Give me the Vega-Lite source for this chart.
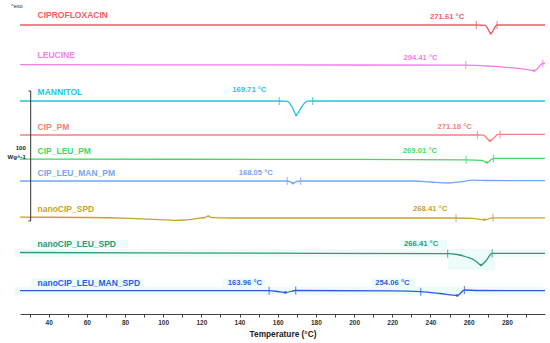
{
  "$schema": "https://vega.github.io/schema/vega-lite/v6.json",
  "width": 525,
  "height": 314,
  "autosize": {"type": "none"},
  "padding": {"left": 20, "top": 0, "right": 5, "bottom": 29},
  "background": "white",
  "config": {
    "view": {"stroke": null},
    "font": "Liberation Sans"
  },
  "datasets": {
    "curves": [
      {"s": "CIPROFLOXACIN", "t": 25, "v": 289}, {"s": "CIPROFLOXACIN", "t": 150, "v": 289}, {"s": "CIPROFLOXACIN", "t": 264, "v": 289}, {"s": "CIPROFLOXACIN", "t": 268.6, "v": 288.6}, {"s": "CIPROFLOXACIN", "t": 269.8, "v": 286}, {"s": "CIPROFLOXACIN", "t": 271.6, "v": 280.7}, {"s": "CIPROFLOXACIN", "t": 274.8, "v": 289}, {"s": "CIPROFLOXACIN", "t": 300, "v": 289},
      {"s": "LEUCINE", "t": 25, "v": 249.3}, {"s": "LEUCINE", "t": 150, "v": 249.1}, {"s": "LEUCINE", "t": 258.5, "v": 248.8}, {"s": "LEUCINE", "t": 270, "v": 248}, {"s": "LEUCINE", "t": 280, "v": 246.7}, {"s": "LEUCINE", "t": 290, "v": 244.6}, {"s": "LEUCINE", "t": 294.4, "v": 243.3}, {"s": "LEUCINE", "t": 298.9, "v": 250.5}, {"s": "LEUCINE", "t": 300, "v": 250.5},
      {"s": "MANNITOL", "t": 25, "v": 213}, {"s": "MANNITOL", "t": 160.8, "v": 213}, {"s": "MANNITOL", "t": 165, "v": 212.6}, {"s": "MANNITOL", "t": 167.5, "v": 207}, {"s": "MANNITOL", "t": 169.7, "v": 199}, {"s": "MANNITOL", "t": 172.5, "v": 207}, {"s": "MANNITOL", "t": 175.5, "v": 212.8}, {"s": "MANNITOL", "t": 178.3, "v": 213}, {"s": "MANNITOL", "t": 300, "v": 213},
      {"s": "CIP_PM", "t": 25, "v": 179}, {"s": "CIP_PM", "t": 264.6, "v": 179}, {"s": "CIP_PM", "t": 267.8, "v": 178.8}, {"s": "CIP_PM", "t": 271.2, "v": 173.2}, {"s": "CIP_PM", "t": 275.6, "v": 179.6}, {"s": "CIP_PM", "t": 300, "v": 179.6},
      {"s": "CIP_LEU_PM", "t": 25, "v": 154.8}, {"s": "CIP_LEU_PM", "t": 200, "v": 154.6}, {"s": "CIP_LEU_PM", "t": 258.7, "v": 154.2}, {"s": "CIP_LEU_PM", "t": 266.9, "v": 153.6}, {"s": "CIP_LEU_PM", "t": 269.5, "v": 151.5}, {"s": "CIP_LEU_PM", "t": 272.1, "v": 154.7}, {"s": "CIP_LEU_PM", "t": 273, "v": 155.6}, {"s": "CIP_LEU_PM", "t": 300, "v": 155.7},
      {"s": "CIP_LEU_MAN_PM", "t": 25, "v": 133}, {"s": "CIP_LEU_MAN_PM", "t": 165, "v": 133}, {"s": "CIP_LEU_MAN_PM", "t": 166.5, "v": 132.3}, {"s": "CIP_LEU_MAN_PM", "t": 168, "v": 130.8}, {"s": "CIP_LEU_MAN_PM", "t": 170, "v": 132.5}, {"s": "CIP_LEU_MAN_PM", "t": 172, "v": 133}, {"s": "CIP_LEU_MAN_PM", "t": 232, "v": 133}, {"s": "CIP_LEU_MAN_PM", "t": 240, "v": 132}, {"s": "CIP_LEU_MAN_PM", "t": 250, "v": 131}, {"s": "CIP_LEU_MAN_PM", "t": 256, "v": 132.3}, {"s": "CIP_LEU_MAN_PM", "t": 262, "v": 133.8}, {"s": "CIP_LEU_MAN_PM", "t": 270, "v": 133.5}, {"s": "CIP_LEU_MAN_PM", "t": 300, "v": 133.4},
      {"s": "nanoCIP_SPD", "t": 25, "v": 96.8}, {"s": "nanoCIP_SPD", "t": 60, "v": 96.5}, {"s": "nanoCIP_SPD", "t": 82.5, "v": 95.6}, {"s": "nanoCIP_SPD", "t": 98, "v": 94.4}, {"s": "nanoCIP_SPD", "t": 106, "v": 93.6}, {"s": "nanoCIP_SPD", "t": 111, "v": 94}, {"s": "nanoCIP_SPD", "t": 119, "v": 95.8}, {"s": "nanoCIP_SPD", "t": 122, "v": 96.5}, {"s": "nanoCIP_SPD", "t": 123.6, "v": 98}, {"s": "nanoCIP_SPD", "t": 125.3, "v": 96.3}, {"s": "nanoCIP_SPD", "t": 135, "v": 96}, {"s": "nanoCIP_SPD", "t": 253.4, "v": 96}, {"s": "nanoCIP_SPD", "t": 262, "v": 95.6}, {"s": "nanoCIP_SPD", "t": 268.4, "v": 94.3}, {"s": "nanoCIP_SPD", "t": 272.8, "v": 96.2}, {"s": "nanoCIP_SPD", "t": 300, "v": 96.2},
      {"s": "nanoCIP_LEU_SPD", "t": 25, "v": 61.5}, {"s": "nanoCIP_LEU_SPD", "t": 150, "v": 60.8}, {"s": "nanoCIP_LEU_SPD", "t": 249, "v": 60.3}, {"s": "nanoCIP_LEU_SPD", "t": 254, "v": 59.5}, {"s": "nanoCIP_LEU_SPD", "t": 259, "v": 57}, {"s": "nanoCIP_LEU_SPD", "t": 263.4, "v": 53.5}, {"s": "nanoCIP_LEU_SPD", "t": 266.5, "v": 49}, {"s": "nanoCIP_LEU_SPD", "t": 269, "v": 53}, {"s": "nanoCIP_LEU_SPD", "t": 272.3, "v": 60.7}, {"s": "nanoCIP_LEU_SPD", "t": 300, "v": 60.7},
      {"s": "nanoCIP_LEU_MAN_SPD", "t": 25, "v": 23.3}, {"s": "nanoCIP_LEU_MAN_SPD", "t": 155.5, "v": 23.3}, {"s": "nanoCIP_LEU_MAN_SPD", "t": 160, "v": 22.5}, {"s": "nanoCIP_LEU_MAN_SPD", "t": 164, "v": 21.5}, {"s": "nanoCIP_LEU_MAN_SPD", "t": 169.4, "v": 23.5}, {"s": "nanoCIP_LEU_MAN_SPD", "t": 220, "v": 23.1}, {"s": "nanoCIP_LEU_MAN_SPD", "t": 234.9, "v": 22.3}, {"s": "nanoCIP_LEU_MAN_SPD", "t": 245, "v": 20.5}, {"s": "nanoCIP_LEU_MAN_SPD", "t": 254.1, "v": 18.5}, {"s": "nanoCIP_LEU_MAN_SPD", "t": 257.8, "v": 24}, {"s": "nanoCIP_LEU_MAN_SPD", "t": 265, "v": 23.5}, {"s": "nanoCIP_LEU_MAN_SPD", "t": 300, "v": 23.4}
    ],
    "limits": [
      {"s": "CIPROFLOXACIN", "t": 264, "v": 289}, {"s": "CIPROFLOXACIN", "t": 274.9, "v": 289},
      {"s": "LEUCINE", "t": 258.5, "v": 248.8}, {"s": "LEUCINE", "t": 298.9, "v": 250.5},
      {"s": "MANNITOL", "t": 160.8, "v": 213}, {"s": "MANNITOL", "t": 178.3, "v": 213},
      {"s": "CIP_PM", "t": 264.6, "v": 179}, {"s": "CIP_PM", "t": 276.5, "v": 179.6},
      {"s": "CIP_LEU_PM", "t": 258.7, "v": 154.2}, {"s": "CIP_LEU_PM", "t": 273, "v": 155.6},
      {"s": "CIP_LEU_MAN_PM", "t": 165, "v": 133}, {"s": "CIP_LEU_MAN_PM", "t": 172, "v": 133},
      {"s": "nanoCIP_SPD", "t": 253.4, "v": 96}, {"s": "nanoCIP_SPD", "t": 272.8, "v": 96.2},
      {"s": "nanoCIP_LEU_SPD", "t": 249, "v": 60.3}, {"s": "nanoCIP_LEU_SPD", "t": 272.3, "v": 60.7},
      {"s": "nanoCIP_LEU_MAN_SPD", "t": 155.5, "v": 23.3}, {"s": "nanoCIP_LEU_MAN_SPD", "t": 169.4, "v": 23.5}, {"s": "nanoCIP_LEU_MAN_SPD", "t": 234.9, "v": 22.3}, {"s": "nanoCIP_LEU_MAN_SPD", "t": 257.8, "v": 24}
    ],
    "peaks": [
      {"s": "CIPROFLOXACIN", "label": "271.61 °C", "lt": 248.7, "lv": 297, "pt": 271.6, "pv": 280.7},
      {"s": "LEUCINE", "label": "294.41 °C", "lt": 234.8, "lv": 256, "pt": 294.4, "pv": 243.3},
      {"s": "MANNITOL", "label": "169.71 °C", "lt": 145.1, "lv": 224, "pt": 169.7, "pv": 199},
      {"s": "CIP_PM", "label": "271.18 °C", "lt": 252.7, "lv": 187.3, "pt": 271.2, "pv": 173.2},
      {"s": "CIP_LEU_PM", "label": "269.01 °C", "lt": 234.5, "lv": 163.3, "pt": 269.5, "pv": 151.5},
      {"s": "CIP_LEU_MAN_PM", "label": "168.05 °C", "lt": 148.5, "lv": 140.7, "pt": 168, "pv": 130.8},
      {"s": "nanoCIP_SPD", "label": "268.41 °C", "lt": 239.8, "lv": 104.7, "pt": 268.4, "pv": 94.3},
      {"s": "nanoCIP_LEU_SPD", "label": "266.41 °C", "lt": 235.1, "lv": 70, "pt": 266.5, "pv": 49},
      {"s": "nanoCIP_LEU_MAN_SPD", "label": "163.96 °C", "lt": 142.8, "lv": 31.3, "pt": 164, "pv": 21.5},
      {"s": "nanoCIP_LEU_MAN_SPD", "label": "254.06 °C", "lt": 220.1, "lv": 31.3, "pt": 254.1, "pv": 18.5}
    ],
    "names": [
      {"s": "CIPROFLOXACIN", "t": 34.2, "v": 299},
      {"s": "LEUCINE", "t": 34.2, "v": 259},
      {"s": "MANNITOL", "t": 34.2, "v": 222},
      {"s": "CIP_PM", "t": 34.2, "v": 187.3},
      {"s": "CIP_LEU_PM", "t": 34.2, "v": 163.3},
      {"s": "CIP_LEU_MAN_PM", "t": 34.2, "v": 140.7},
      {"s": "nanoCIP_SPD", "t": 34.2, "v": 104.7},
      {"s": "nanoCIP_LEU_SPD", "t": 34.2, "v": 70.5},
      {"s": "nanoCIP_LEU_MAN_SPD", "t": 34.2, "v": 31}
    ],
    "bands": [
      {"t1": 22, "t2": 300, "v1": 57, "v2": 65},
      {"t1": 249, "t2": 274, "v1": 44, "v2": 65},
      {"t1": 31, "t2": 81.4, "v1": 66, "v2": 74},
      {"t1": 224, "t2": 248.7, "v1": 65.7, "v2": 74},
      {"t1": 22, "t2": 300, "v1": 19, "v2": 27.3},
      {"t1": 31, "t2": 89.4, "v1": 27.3, "v2": 36},
      {"t1": 131.2, "t2": 153.3, "v1": 27.3, "v2": 36},
      {"t1": 209.2, "t2": 232, "v1": 27.3, "v2": 36}
    ],
    "bar": [
      {"t": 30.6, "t2": 30.6, "v": 93, "v2": 223},
      {"t": 29.4, "t2": 30.6, "v": 223, "v2": 223},
      {"t": 29.4, "t2": 30.6, "v": 93, "v2": 93}
    ],
    "notes": [
      {"txt": "100", "t": 28, "v": 166},
      {"txt": "Wg^-1", "t": 28, "v": 157.5}
    ]
  },
  "resolve": {"scale": {"x": "shared", "y": "shared"}, "axis": {"x": "independent", "y": "independent"}},
  "layer": [
    {
      "data": {"name": "bands"},
      "mark": {"type": "rect", "color": "#eefbfb"},
      "encoding": {
        "x": {"field": "t1", "type": "quantitative", "axis": null, "scale": {"domain": [25, 300], "nice": false, "zero": false}},
        "x2": {"field": "t2"},
        "y": {"field": "v1", "type": "quantitative", "scale": {"domain": [0, 314], "nice": false, "zero": false}, "axis": null},
        "y2": {"field": "v2"}
      }
    },
    {
      "data": {"name": "curves"},
      "mark": {"type": "line", "strokeWidth": 1.3, "interpolate": "monotone"},
      "encoding": {
        "x": {"field": "t", "type": "quantitative",
          "axis": {"orient": "bottom", "values": [40, 60, 80, 100, 120, 140, 160, 180, 200, 220, 240, 260, 280],
            "grid": false, "domainColor": "#444", "tickColor": "#444", "tickSize": 3, "labelPadding": 2, "labelFontSize": 6.5, "labelFontWeight": "bold", "labelColor": "#333",
            "title": "Temperature (°C)", "titleFontSize": 8.3, "titleFontWeight": "bold", "titleColor": "#222", "titlePadding": 4}},
        "y": {"field": "v", "type": "quantitative", "axis": null},
        "color": {"field": "s", "type": "nominal", "legend": null,
          "scale": {"domain": ["CIPROFLOXACIN", "LEUCINE", "MANNITOL", "CIP_PM", "CIP_LEU_PM", "CIP_LEU_MAN_PM", "nanoCIP_SPD", "nanoCIP_LEU_SPD", "nanoCIP_LEU_MAN_SPD"],
            "range": ["#f25c64", "#f27ee8", "#1fc6d8", "#f4807e", "#45d766", "#74a6f0", "#c9a22a", "#2f9a74", "#2c5ee0"]}},
        "detail": {"field": "s"}
      }
    },
    {
      "data": {"name": "limits"},
      "mark": {"type": "tick", "orient": "vertical", "size": 8, "thickness": 1.2},
      "encoding": {
        "x": {"field": "t", "type": "quantitative",
          "axis": {"orient": "bottom", "values": [30, 50, 70, 90, 110, 130, 150, 170, 190, 210, 230, 250, 270, 290],
            "labels": false, "domain": false, "grid": false, "title": null, "tickColor": "#444", "tickSize": 3}},
        "y": {"field": "v", "type": "quantitative", "axis": null},
        "color": {"field": "s", "type": "nominal", "legend": null}
      }
    },
    {
      "data": {"name": "peaks"},
      "mark": {"type": "point", "shape": "square", "size": 5, "filled": true, "opacity": 1},
      "encoding": {
        "x": {"field": "pt", "type": "quantitative", "axis": null},
        "y": {"field": "pv", "type": "quantitative", "axis": null},
        "color": {"field": "s", "type": "nominal", "legend": null}
      }
    },
    {
      "data": {"name": "peaks"},
      "mark": {"type": "text", "fontSize": 7.7, "fontWeight": "bold", "align": "center", "baseline": "middle"},
      "encoding": {
        "x": {"field": "lt", "type": "quantitative", "axis": null},
        "y": {"field": "lv", "type": "quantitative", "axis": null},
        "text": {"field": "label"},
        "color": {"field": "s", "type": "nominal", "legend": null}
      }
    },
    {
      "data": {"name": "names"},
      "mark": {"type": "text", "fontSize": 8.5, "fontWeight": "bold", "align": "left", "baseline": "middle"},
      "encoding": {
        "x": {"field": "t", "type": "quantitative", "axis": null},
        "y": {"field": "v", "type": "quantitative", "axis": null},
        "text": {"field": "s"},
        "color": {"field": "s", "type": "nominal", "legend": null}
      }
    },
    {
      "data": {"name": "bar"},
      "mark": {"type": "rule", "color": "#333", "strokeWidth": 1},
      "encoding": {
        "x": {"field": "t", "type": "quantitative", "axis": null},
        "y": {"field": "v", "type": "quantitative", "axis": null},
        "x2": {"field": "t2"},
        "y2": {"field": "v2"}
      }
    },
    {
      "data": {"name": "notes"},
      "mark": {"type": "text", "fontSize": 6, "fontWeight": "bold", "align": "right", "baseline": "middle", "color": "#222"},
      "encoding": {
        "x": {"field": "t", "type": "quantitative", "axis": null},
        "y": {"field": "v", "type": "quantitative", "axis": null},
        "text": {"field": "txt"}
      }
    },
    {
      "data": {"values": [{"txt": "^exo", "t": 20.4, "v": 308.3}]},
      "mark": {"type": "text", "fontSize": 5.5, "align": "left", "baseline": "middle", "color": "#222"},
      "encoding": {
        "x": {"field": "t", "type": "quantitative", "axis": null},
        "y": {"field": "v", "type": "quantitative", "axis": null},
        "text": {"field": "txt"}
      }
    }
  ]
}
